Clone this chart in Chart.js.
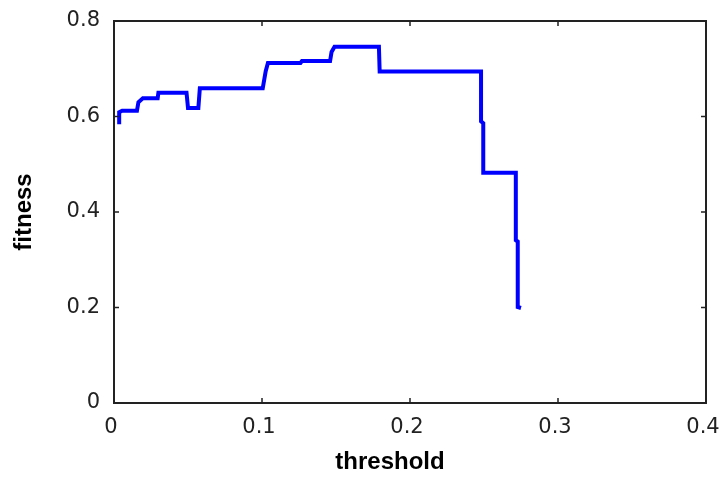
<!DOCTYPE html>
<html>
<head>
<meta charset="utf-8">
<script src="https://cdn.jsdelivr.net/npm/chart.js@4/dist/chart.umd.min.js"></script>
<style>
  html, body { margin: 0; padding: 0; background: #ffffff; }
  #wrap { width: 727px; height: 477px; }
</style>
</head>
<body>
<div id="wrap"><canvas id="c" width="727" height="477"></canvas></div>
<script>
// Data (threshold -> fitness, step-like curve)
const thresholds = [0.0035, 0.0035, 0.0055, 0.0155, 0.0165, 0.0195, 0.0295, 0.0300, 0.0490, 0.0500, 0.0570, 0.0580, 0.1005, 0.1025, 0.1040, 0.1260, 0.1270, 0.1460, 0.1470, 0.1490, 0.1790, 0.1795, 0.2480, 0.2480, 0.2495, 0.2495, 0.2715, 0.2715, 0.2728, 0.2728, 0.2750];
const fitness    = [0.584,  0.609,  0.612,  0.612,  0.630,  0.638,  0.638,  0.650,  0.650,  0.618,  0.618,  0.659,  0.659,  0.695,  0.712,  0.712,  0.716,  0.716,  0.735,  0.746,  0.746,  0.694,  0.694,  0.590,  0.586,  0.482,  0.482,  0.341,  0.338,  0.201,  0.199];
const xTickLabels = ["0", "0.1", "0.2", "0.3", "0.4"];
const yTickLabels = ["0", "0.2", "0.4", "0.6", "0.8"];
const xTitle = "threshold";
const yTitle = "fitness";

const points = thresholds.map((t, i) => ({ x: t, y: fitness[i] }));

const boxPlugin = {
  id: 'matlabBox',
  afterDraw(chart) {
    const ctx = chart.ctx;
    const a = chart.chartArea;
    const xs = chart.scales.x, ys = chart.scales.y;
    ctx.save();
    ctx.strokeStyle = '#222';
    ctx.lineWidth = 2;
    ctx.strokeRect(a.left, a.top, a.right - a.left, a.bottom - a.top);
    ctx.lineWidth = 1.5;
    const tl = 5;
    ctx.beginPath();
    xs.ticks.forEach(t => {
      const px = xs.getPixelForValue(t.value);
      ctx.moveTo(px, a.bottom); ctx.lineTo(px, a.bottom - tl);
      ctx.moveTo(px, a.top); ctx.lineTo(px, a.top + tl);
    });
    ys.ticks.forEach(t => {
      const py = ys.getPixelForValue(t.value);
      ctx.moveTo(a.left, py); ctx.lineTo(a.left + tl, py);
      ctx.moveTo(a.right, py); ctx.lineTo(a.right - tl, py);
    });
    ctx.stroke();
    // x axis title
    ctx.fillStyle = '#000';
    ctx.font = 'bold 24px "Liberation Sans", Arial, sans-serif';
    ctx.textAlign = 'center';
    ctx.textBaseline = 'alphabetic';
    ctx.fillText(xTitle, (a.left + a.right) / 2 - 20, 469);
    ctx.restore();
  }
};

new Chart(document.getElementById('c'), {
  type: 'line',
  data: {
    datasets: [{
      data: points,
      borderColor: '#0000ff',
      borderWidth: 4,
      pointRadius: 0,
      tension: 0,
      fill: false,
      borderJoinStyle: 'miter',
      borderCapStyle: 'butt'
    }]
  },
  options: {
    responsive: false,
    animation: false,
    devicePixelRatio: 1,
    layout: { padding: { left: 0, top: 21, right: 21, bottom: 0 } },
    plugins: { legend: { display: false }, tooltip: { enabled: false } },
    scales: {
      x: {
        type: 'linear',
        min: 0, max: 0.4,
        grid: { display: false, drawTicks: false },
        border: { display: false },
        ticks: {
          stepSize: 0.1,
          padding: 12,
          maxRotation: 0,
          labelOffset: -3,
          color: '#222',
          font: { family: '"DejaVu Sans", sans-serif', size: 21 },
          callback: (v, i) => xTickLabels[i]
        },
        afterFit(s) { s.height = 74; s.paddingLeft = 0; s.paddingRight = 0; }
      },
      y: {
        type: 'linear',
        min: 0, max: 0.8,
        grid: { display: false, drawTicks: false },
        border: { display: false },
        ticks: {
          stepSize: 0.2,
          padding: 14,
          color: '#222',
          font: { family: '"DejaVu Sans", sans-serif', size: 21 },
          callback: (v, i) => yTickLabels[i]
        },
        title: {
          display: true,
          text: yTitle,
          color: '#000',
          font: { family: '"Liberation Sans", Arial, sans-serif', size: 24, weight: 'bold' },
          padding: { top: 10, bottom: 0 }
        },
        afterFit(s) { s.width = 114; s.paddingTop = 0; s.paddingBottom = 0; }
      }
    }
  },
  plugins: [boxPlugin]
});
</script>
</body>
</html>
